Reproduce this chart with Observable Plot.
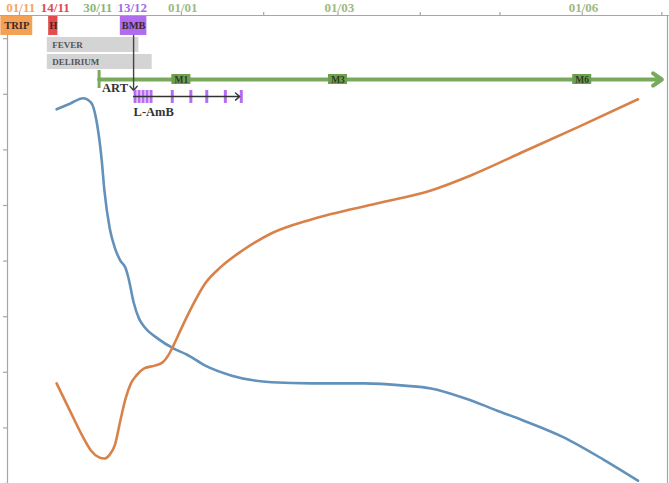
<!DOCTYPE html>
<html><head><meta charset="utf-8">
<script src="https://cdn.jsdelivr.net/npm/d3@7"></script>
<script src="https://cdn.jsdelivr.net/npm/@observablehq/plot@0.6"></script>
<style>html,body{margin:0;padding:0;background:#fff;} svg{display:block}</style>
</head><body><div id="chart"></div>
<script>
// ---------- DATA ----------
const monthTicks = ["2018-11-01","2018-12-01","2019-01-01","2019-02-01","2019-03-01","2019-04-01","2019-05-01","2019-06-01","2019-07-01"];
const axisLabels = ["01/11","14/11","30/11","13/12","01/01","01/03","01/06"];
const axisLabelDates = ["2018-11-01T12:00","2018-11-14T12:00","2018-11-30T12:00","2018-12-13T12:00","2019-01-01T12:00","2019-03-01T12:00","2019-06-01T12:00"];
const axisLabelKinds = ["trip","hosp","art","bmb","month","month","month"];

const boxLabels = ["TRIP","H","BMB"];
const boxKinds = ["trip","hosp","bmb"];
const boxStart = ["2018-10-25","2018-11-12","2018-12-09"];
const boxEnd = ["2018-11-06","2018-11-15T12:00","2018-12-19"];

const symptomLabels = ["FEVER","DELIRIUM"];
const symptomStart = ["2018-11-11T12:00","2018-11-11T12:00"];
const symptomEnd = ["2018-12-16","2018-12-21"];

const bmbArrowDate = "2018-12-14";
const artStart = "2018-12-01";
const artEnd = "2019-07-01";
const artMilestones = ["M1","M3","M6"];
const artMilestoneDates = ["2019-01-01","2019-03-01","2019-06-01"];

const lambDoses = ["2018-12-14","2018-12-15T12:00","2018-12-17","2018-12-18T12:00","2018-12-20","2018-12-28","2019-01-04","2019-01-10","2019-01-17","2019-01-23"];
const lambEnd = "2019-01-23";

const blueDates = ["2018-11-15","2018-11-20","2018-11-25","2018-11-28","2018-11-30","2018-12-02","2018-12-03","2018-12-05","2018-12-07","2018-12-09","2018-12-11","2018-12-12","2018-12-14","2018-12-16","2018-12-18","2018-12-23","2018-12-29","2019-01-03","2019-01-10","2019-01-20","2019-02-04","2019-02-19","2019-03-11","2019-03-26","2019-04-05","2019-04-18","2019-04-30","2019-05-10","2019-05-25","2019-06-09","2019-06-22"];
const blueValues = [67.3,68.3,69.3,68.5,65.3,58.1,52.7,45.9,42.3,40.1,38.7,37.1,32.6,29.7,28.2,26.1,24.3,23.2,21.2,19.4,18.2,18.0,18.0,17.6,17.1,15.3,13.1,11.3,8.3,4.3,0.5];

const orangeDates = ["2018-11-15","2018-11-20","2018-11-25","2018-11-28","2018-12-01","2018-12-03","2018-12-05","2018-12-07","2018-12-09","2018-12-11","2018-12-13","2018-12-15","2018-12-18","2018-12-22","2018-12-25","2018-12-27","2018-12-29","2019-01-01","2019-01-05","2019-01-10","2019-01-16","2019-01-24","2019-02-04","2019-02-19","2019-03-16","2019-04-05","2019-04-20","2019-05-10","2019-05-30","2019-06-22"];
const orangeValues = [18.0,13.1,8.3,5.9,4.7,4.5,5.2,7.0,11.3,15.3,18.0,19.4,20.7,21.2,21.8,23.0,24.8,27.9,31.8,36.0,39.0,41.9,45.0,47.5,50.4,52.7,55.4,59.7,64.0,69.1];

const yTicks = [0,10,20,30,40,50,60,70,80];

// ---------- STYLE / LAYOUT ----------
const parse = s => new Date(s.length === 10 ? s + "T00:00:00Z" : s + ":00Z");
const kindColor = {trip:"#f4a055", hosp:"#e64b4b", bmb:"#b06cec", art:"#79a95b", month:"#9ab882"};
const labelColor = {trip:"#f2a862", hosp:"#e04a4a", bmb:"#a26de4", art:"#8db678", month:"#9db985"};
const serif = "Liberation Serif, Times New Roman, serif";
const YMAX = 84.17;
const lane = {
  boxTop: 83.99, boxBot: 80.58, boxMid: 82.3,
  fevTop: 80.22, fevBot: 77.52, fevMid: 78.87,
  delTop: 77.16, delBot: 74.46, delMid: 75.8,
  artTop: 74.28, artBot: 71.04, artLine: 72.66, artText: 71.1,
  mTop: 73.56, mBot: 71.76,
  bmbFrom: 80.58, bmbTo: 70.68,
  doseTop: 70.68, doseBot: 68.35, doseLine: 69.6, doseText: 66.9
};

const blue = blueDates.map((d,i)=>({date:parse(d), value:blueValues[i]}));
const orange = orangeDates.map((d,i)=>({date:parse(d), value:orangeValues[i]}));
const axisLab = axisLabels.map((t,i)=>({text:t, date:parse(axisLabelDates[i]), kind:axisLabelKinds[i]}));
const boxes = boxLabels.map((t,i)=>({text:t, kind:boxKinds[i], x1:parse(boxStart[i]), x2:parse(boxEnd[i])}));
const symptoms = symptomLabels.map((t,i)=>({text:t, x1:parse(symptomStart[i]), x2:parse(symptomEnd[i]),
  y1: i===0?lane.fevBot:lane.delBot, y2: i===0?lane.fevTop:lane.delTop, ym: i===0?lane.fevMid:lane.delMid}));
const milestones = artMilestones.map((t,i)=>({text:t, date:parse(artMilestoneDates[i])}));
const doses = lambDoses.map(d=>({date:parse(d)}));
const months = monthTicks.map(parse);

const chart = Plot.plot({
  width: 669, height: 483,
  marginLeft: 7, marginRight: 1, marginTop: 15, marginBottom: 0,
  x: {type: "utc", domain: [parse("2018-10-27T12:00"), parse("2019-07-03T12:00")], axis: null},
  y: {domain: [0, YMAX], axis: null},
  marks: [
    // axes
    Plot.ruleY([YMAX], {x1: parse("2018-10-20"), x2: parse("2019-07-10"), stroke: "#a6a6a6", strokeWidth: 1.2}),
    Plot.axisX({anchor: "top", ticks: months, tickSize: 4, tickFormat: () => "", stroke: "#a6a6a6", strokeWidth: 1.2}),
    Plot.ruleX([parse("2018-10-27T12:00")], {y1: 0, y2: YMAX, stroke: "#a6a6a6", strokeWidth: 1.2}),
    Plot.axisY({anchor: "left", ticks: yTicks, tickSize: 4, tickFormat: () => "", stroke: "#a6a6a6", strokeWidth: 1.2}),
    Plot.ruleX([parse("2019-07-03T12:00")], {y1: 0, y2: YMAX, stroke: "#a6a6a6", strokeWidth: 1.2, dx: -1}),
    Plot.text(axisLab, {x: "date", y: YMAX, text: "text", dy: -8, fill: d=>labelColor[d.kind], fontFamily: serif, fontWeight: "bold", fontSize: 13}),
    // event boxes
    Plot.rect(boxes, {x1: "x1", x2: "x2", y1: lane.boxBot, y2: lane.boxTop, fill: d=>kindColor[d.kind]}),
    Plot.text(boxes, {x: d=>new Date((+d.x1 + +d.x2)/2), y: lane.boxMid, text: "text", fill: "#3a2a2a", fontFamily: serif, fontWeight: "bold", fontSize: 10.5}),
    // symptoms
    Plot.rect(symptoms, {x1: "x1", x2: "x2", y1: "y1", y2: "y2", fill: "#d4d4d4"}),
    Plot.text(symptoms, {x: "x1", y: "ym", text: "text", textAnchor: "start", dx: 5, fill: "#555", fontFamily: serif, fontWeight: "bold", fontSize: 9}),
    // ART
    Plot.arrow([0], {x1: parse(artStart), x2: parse(artEnd), y1: lane.artLine, y2: lane.artLine, stroke: kindColor.art, strokeWidth: 4, headLength: 4, headAngle: 70}),
    Plot.ruleX([parse(artStart)], {y1: lane.artBot, y2: lane.artTop, stroke: kindColor.art, strokeWidth: 3}),
    Plot.rect(milestones, {x1: d=>d3.utcHour.offset(d.date, -86), x2: d=>d3.utcHour.offset(d.date, 86), y1: lane.mBot, y2: lane.mTop, fill: "#6e9f51"}),
    Plot.text(milestones, {x: "date", y: (lane.mBot+lane.mTop)/2, text: "text", fill: "#2f3a22", fontFamily: serif, fontWeight: "bold", fontSize: 9.5}),
    Plot.text(["ART"], {x: parse(artStart), y: lane.artText, text: d=>d, textAnchor: "start", dx: 3, fill: "#333", fontFamily: serif, fontWeight: "bold", fontSize: 12.5}),
    // BMB arrow
    Plot.arrow([0], {x1: parse(bmbArrowDate), x2: parse(bmbArrowDate), y1: lane.bmbFrom, y2: lane.bmbTo, stroke: "#444", strokeWidth: 1.4, headLength: 6, headAngle: 80}),
    // L-AmB
    Plot.ruleX(doses, {x: "date", y1: lane.doseBot, y2: lane.doseTop, stroke: "#b46cf0", strokeWidth: 3, dx: 1.5}),
    Plot.arrow([0], {x1: parse(bmbArrowDate), x2: parse(lambEnd), y1: lane.doseLine, y2: lane.doseLine, stroke: "#333", strokeWidth: 1.4, headLength: 6, headAngle: 80}),
    Plot.text(["L-AmB"], {x: parse(bmbArrowDate), y: lane.doseText, text: d=>d, textAnchor: "start", fill: "#333", fontFamily: serif, fontWeight: "bold", fontSize: 12.5}),
    // series
    Plot.line(blue, {x: "date", y: "value", stroke: "#6291bb", strokeWidth: 2.6, curve: "monotone-x"}),
    Plot.line(orange, {x: "date", y: "value", stroke: "#d8824a", strokeWidth: 2.6, curve: "monotone-x"})
  ]
});
document.getElementById("chart").appendChild(chart);
</script></body></html>
